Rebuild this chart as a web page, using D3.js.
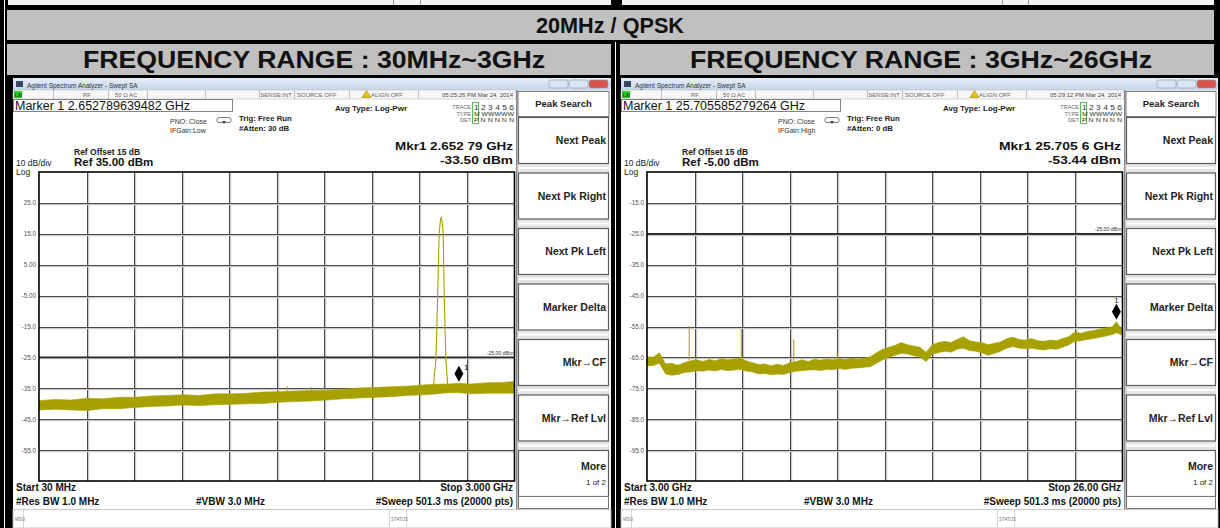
<!DOCTYPE html>
<html><head><meta charset="utf-8">
<script src="https://cdn.jsdelivr.net/npm/d3@7"></script>
<style>
html,body{margin:0;padding:0;background:#000;}
svg{display:block;font-family:"Liberation Sans",Arial,sans-serif;}
</style></head><body>
<svg id="c" width="1220" height="528"></svg>
<script>
// ---------- captions ----------
const pageTitle = "20MHz / QPSK";
const rangeTitles = ["FREQUENCY RANGE : 30MHz~3GHz", "FREQUENCY RANGE : 3GHz~26GHz"];
const softKeys = ["Next Peak", "Next Pk Right", "Next Pk Left", "Marker Delta", "Mkr\u2192CF", "Mkr\u2192Ref Lvl", "More"];

// ---------- sweep 1 : 30 MHz – 3 GHz (GHz, dBm) ----------
const lowStartGHz = 0.03, lowStopGHz = 3.0, lowRefDbm = 35;
const lowYTicks = [25, 15, 5, -5, -15, -25, -35, -45, -55];
const lowYTickLabels = ["25.0", "15.0", "5.00", "-5.00", "-15.0", "-25.0", "-35.0", "-45.0", "-55.0"];
// noise floor envelope (upper / lower edge of the trace)
const lowNoiseFreq = [0.03, 0.13, 0.23, 0.33, 0.43, 0.53, 0.63, 0.73, 0.83, 0.93, 1.03, 1.13, 1.23, 1.33, 1.43, 1.53, 1.63, 1.73, 1.83, 1.93, 2.03, 2.13, 2.23, 2.33, 2.43, 2.49, 2.59, 2.65, 2.73, 2.83, 2.93, 3.00];
const lowNoiseHigh = [-39.0, -38.6, -38.8, -38.2, -38.4, -37.9, -37.9, -37.5, -37.3, -37.1, -37.3, -36.8, -36.8, -36.6, -36.2, -36.1, -35.9, -35.7, -35.6, -35.3, -34.9, -34.7, -34.5, -34.3, -33.9, -33.7, -33.6, -33.4, -33.6, -33.2, -33.1, -32.8];
const lowNoiseLow = [-42.0, -41.8, -42.0, -42.2, -41.6, -41.6, -41.2, -40.9, -40.7, -40.4, -40.6, -40.3, -40.2, -40.0, -39.9, -39.5, -39.3, -39.1, -38.8, -38.4, -38.1, -37.9, -37.7, -37.3, -37.1, -36.9, -36.4, -36.4, -36.8, -36.6, -36.6, -36.6];
// 20 MHz QPSK carrier
const lowCarrierFreq = [2.4935, 2.4998, 2.5092, 2.5186, 2.5292, 2.5355, 2.5417, 2.5480, 2.5543, 2.5624, 2.5718, 2.5780, 2.5843];
const lowCarrierDbm = [-35.0, -30.5, -26.0, -8.0, 15.0, 18.5, 20.5, 19.0, 15.0, -8.0, -26.0, -30.5, -35.0];
const lowSpurFreq = [1.58, 1.73];
const lowSpurBase = [-36.0, -35.8];
const lowSpurPeak = [-34.3, -34.6];
const lowMarkerGHz = 2.652789639482, lowMarkerDbm = -33.50;

// ---------- sweep 2 : 3 GHz – 26 GHz (GHz, dBm) ----------
const highStartGHz = 3.0, highStopGHz = 26.0, highRefDbm = -5;
const highYTicks = [-15, -25, -35, -45, -55, -65, -75, -85, -95];
const highYTickLabels = ["-15.0", "-25.0", "-35.0", "-45.0", "-55.0", "-65.0", "-75.0", "-85.0", "-95.0"];
const highNoiseFreq = [3.0, 3.3, 3.6, 3.9, 4.2, 4.5, 4.8, 5.1, 5.4, 5.7, 6.0, 6.3, 6.6, 6.9, 7.2, 7.5, 7.8, 8.1, 8.4, 8.7, 9.0, 9.3, 9.6, 9.9, 10.2, 10.5, 10.8, 11.1, 11.4, 11.7, 12.0, 12.3, 12.6, 12.9, 13.2, 13.5, 13.8, 14.1, 14.4, 14.7, 15.0, 15.3, 15.6, 15.9, 16.2, 16.5, 16.8, 17.1, 17.4, 17.7, 18.0, 18.3, 18.6, 18.9, 19.2, 19.5, 19.8, 20.1, 20.4, 20.7, 21.0, 21.3, 21.6, 21.9, 22.2, 22.5, 22.8, 23.1, 23.4, 23.7, 24.0, 24.3, 24.6, 24.9, 25.2, 25.5, 25.7056, 25.85, 26.0];
const highNoiseHigh = [-64.8, -65.0, -63.5, -67.1, -66.9, -67.5, -66.7, -66.1, -65.8, -66.3, -65.7, -66.1, -65.4, -65.8, -65.5, -65.3, -66.1, -66.7, -67.3, -67.1, -67.7, -67.2, -67.6, -66.7, -66.4, -65.8, -66.3, -65.6, -65.9, -65.5, -65.8, -65.4, -65.7, -65.3, -65.6, -65.2, -64.8, -63.5, -62.4, -61.7, -61.1, -60.2, -60.9, -61.3, -61.7, -63.3, -60.9, -60.2, -59.8, -60.2, -59.2, -58.3, -59.6, -60.0, -60.2, -60.9, -60.4, -60.0, -58.9, -58.5, -59.2, -59.4, -58.9, -59.6, -59.8, -59.4, -59.6, -58.9, -58.3, -56.8, -57.2, -56.6, -56.3, -55.9, -55.5, -55.1, -53.44, -54.8, -55.9];
const highNoiseLow = [-67.8, -67.6, -66.9, -70.4, -70.8, -70.5, -69.9, -69.7, -69.3, -69.5, -69.1, -69.4, -68.9, -69.3, -69.1, -68.9, -69.4, -69.7, -70.4, -70.2, -70.6, -70.4, -70.5, -69.9, -69.5, -69.3, -69.1, -69.0, -69.2, -68.9, -69.0, -68.6, -68.9, -68.5, -68.4, -68.2, -68.0, -66.9, -65.8, -65.0, -64.3, -63.7, -63.9, -64.5, -64.8, -66.4, -63.9, -63.5, -63.0, -63.3, -62.4, -62.0, -62.8, -63.0, -63.5, -64.3, -63.7, -63.0, -62.0, -61.5, -62.0, -62.2, -62.0, -62.4, -62.6, -62.2, -62.4, -61.7, -60.9, -59.8, -59.6, -59.2, -58.9, -58.5, -58.1, -57.6, -57.0, -57.4, -57.9];
const highSpurFreq = [5.04, 7.56, 10.10, 12.20];
const highSpurBase = [-66.0, -65.3, -66.5, -65.3];
const highSpurPeak = [-54.8, -55.9, -59.2, -63.3];
const highMarkerGHz = 25.705585279264, highMarkerDbm = -53.44;

// ---------- panel texts ----------
const lowInfo = {
  marker: "Marker 1 2.652789639482 GHz", ifgain: "IFGain:Low", atten: "#Atten: 30 dB",
  time: "05:25:26 PM Mar 24, 2014", mkrFreq: "Mkr1 2.652 79 GHz", mkrLevel: "-33.50 dBm",
  ref: "Ref 35.00 dBm", start: "Start 30 MHz", stop: "Stop 3.000 GHz"
};
const highInfo = {
  marker: "Marker 1 25.705585279264 GHz", ifgain: "IFGain:High", atten: "#Atten: 0 dB",
  time: "05:29:12 PM Mar 24, 2014", mkrFreq: "Mkr1 25.705 6 GHz", mkrLevel: "-53.44 dBm",
  ref: "Ref -5.00 dBm", start: "Start 3.00 GHz", stop: "Stop 26.00 GHz"
};

const TRACE = "#a7a100";
const svg = d3.select("#c");

function txt(g, x, y, s, o = {}) {
  const t = g.append("text").attr("x", x).attr("y", y).text(s)
    .attr("font-size", o.size || 8)
    .attr("font-weight", o.bold ? "bold" : "normal")
    .attr("fill", o.fill || "#161616")
    .attr("text-anchor", o.anchor || "start");
  if (o.len) t.attr("textLength", o.len).attr("lengthAdjust", "spacingAndGlyphs");
  return t;
}

// ---------- table frame and captions ----------
svg.append("rect").attr("width", 1220).attr("height", 528).attr("fill", "#000");
svg.append("rect").attr("x", 8).attr("y", 0).attr("width", 603).attr("height", 5).attr("fill", "#f4f4f4");
svg.append("rect").attr("x", 622).attr("y", 0).attr("width", 592).attr("height", 5).attr("fill", "#f4f4f4");
[393, 420, 1002, 1028].forEach(v => svg.append("rect").attr("x", v).attr("y", 0).attr("width", 1).attr("height", 5).attr("fill", "#999"));
svg.append("rect").attr("x", 4).attr("y", 0).attr("width", 1).attr("height", 528).attr("fill", "#fff");
svg.append("rect").attr("x", 615).attr("y", 42).attr("width", 1).attr("height", 486).attr("fill", "#fff");

svg.append("rect").attr("x", 7).attr("y", 10).attr("width", 1207).attr("height", 30).attr("fill", "#c0c0c0");
svg.append("rect").attr("x", 7).attr("y", 44).attr("width", 604).attr("height", 31).attr("fill", "#c0c0c0");
svg.append("rect").attr("x", 620).attr("y", 44).attr("width", 594).attr("height", 31).attr("fill", "#c0c0c0");
txt(svg, 610, 33, pageTitle, { size: 22, bold: true, anchor: "middle", len: 148, fill: "#111" });
txt(svg, 314, 68, rangeTitles[0], { size: 23, bold: true, anchor: "middle", len: 462, fill: "#111" });
txt(svg, 921, 68, rangeTitles[1], { size: 23, bold: true, anchor: "middle", len: 462, fill: "#111" });

// ---------- one analyzer screen ----------
function drawScreen(ox, pw, cfg) {
  const g = svg.append("g");
  const plotL = ox + 26, plotR = ox + 501.5, plotT = 172, plotB = 481;

  g.append("rect").attr("x", ox).attr("y", 78).attr("width", pw).attr("height", 450).attr("fill", "#fff");

  // window title bar
  const gradId = "tb" + ox;
  const grad = svg.append("defs").append("linearGradient").attr("id", gradId).attr("x1", 0).attr("y1", 0).attr("x2", 0).attr("y2", 1);
  grad.append("stop").attr("offset", 0).attr("stop-color", "#e6eef8");
  grad.append("stop").attr("offset", 1).attr("stop-color", "#c6d6ea");
  g.append("rect").attr("x", ox).attr("y", 78).attr("width", pw).attr("height", 12).attr("fill", `url(#${gradId})`);
  g.append("rect").attr("x", ox + 3).attr("y", 81).attr("width", 7).attr("height", 6).attr("fill", "#3b4a63");
  txt(g, ox + 14, 87.5, "Agilent Spectrum Analyzer - Swept SA", { size: 6.5, fill: "#333" });
  [[536, "#dbe5f1"], [556, "#dbe5f1"], [576, "#d9534a"]].forEach(([bx, col]) => {
    g.append("rect").attr("x", ox + bx).attr("y", 80).attr("width", 19).attr("height", 8).attr("rx", 2)
      .attr("fill", col).attr("stroke", "#8a9bb3").attr("stroke-width", 0.6);
  });

  // instrument status row
  g.append("rect").attr("x", ox).attr("y", 90).attr("width", 503).attr("height", 9).attr("fill", "#f7f7f7")
    .attr("stroke", "#bbb").attr("stroke-width", 0.6);
  g.append("rect").attr("x", ox + 1).attr("y", 91).attr("width", 8).attr("height", 7).attr("fill", "#2bd12b");
  txt(g, ox + 2, 97, "LXI", { size: 4.5, bold: true, fill: "#114411" });
  [40, 95, 134, 192, 246, 281, 336, 405].forEach(v => g.append("rect").attr("x", ox + v).attr("y", 90).attr("width", 0.7).attr("height", 9).attr("fill", "#aaa"));
  txt(g, ox + 70, 97, "RF", { size: 6, fill: "#666" });
  txt(g, ox + 102, 97, "50 \u03A9", { size: 6, fill: "#666" });
  txt(g, ox + 116, 97, "AC", { size: 6, fill: "#666" });
  txt(g, ox + 279, 97, "SENSE:INT", { size: 6, fill: "#666", anchor: "end" });
  txt(g, ox + 284, 97, "SOURCE OFF", { size: 6, fill: "#666" });
  g.append("path").attr("d", `M${ox + 349},97.5 L${ox + 353.5},90.5 L${ox + 358},97.5 Z`).attr("fill", "#e8c200").attr("stroke", "#776000").attr("stroke-width", 0.4);
  txt(g, ox + 358, 97, "ALIGN OFF", { size: 6, fill: "#666" });
  txt(g, ox + 500, 97, cfg.info.time, { size: 6, fill: "#444", anchor: "end" });

  // marker readout line
  g.append("rect").attr("x", ox + 0.5).attr("y", 99.5).attr("width", 219).attr("height", 12).attr("fill", "#fff")
    .attr("stroke", "#666").attr("stroke-width", 0.8);
  txt(g, ox + 2, 109.5, cfg.info.marker, { size: 12.5, fill: "#111" });

  txt(g, ox + 157, 123.5, "PNO: Close", { size: 7, fill: "#333" });
  g.append("rect").attr("x", ox + 204).attr("y", 117.5).attr("width", 14).attr("height", 5).attr("rx", 2)
    .attr("fill", "none").attr("stroke", "#444").attr("stroke-width", 0.7);
  g.append("path").attr("d", `M${ox + 209},121 L${ox + 213},121 L${ox + 211},124 Z`).attr("fill", "#444");
  txt(g, ox + 157, 132.5, cfg.info.ifgain, { size: 7, fill: "#333" });
  txt(g, ox + 226, 121, "Trig: Free Run", { size: 7.8, bold: true, fill: "#222" });
  txt(g, ox + 226, 131, cfg.info.atten, { size: 7.8, bold: true, fill: "#222" });
  txt(g, ox + 322, 111, "Avg Type: Log-Pwr", { size: 8, bold: true, fill: "#222" });

  // trace table
  txt(g, ox + 458, 109, "TRACE", { size: 5.5, fill: "#666", anchor: "end" });
  txt(g, ox + 458, 115.5, "TYPE", { size: 5.5, fill: "#666", anchor: "end" });
  txt(g, ox + 458, 122, "DET", { size: 5.5, fill: "#666", anchor: "end" });
  g.append("rect").attr("x", ox + 459.5).attr("y", 102.5).attr("width", 6).attr("height", 21).attr("fill", "none")
    .attr("stroke", "#3aa33a").attr("stroke-width", 0.8);
  txt(g, ox + 461, 109.5, "1 2 3 4 5 6", { size: 6.5, fill: "#333", len: 40 });
  txt(g, ox + 461, 115.5, "M WWWWW", { size: 5.5, fill: "#333", len: 40 });
  txt(g, ox + 461, 122, "P N N N N N", { size: 5.5, fill: "#333", len: 40 });

  // active marker readout
  txt(g, ox + 500, 150, cfg.info.mkrFreq, { size: 11.8, bold: true, fill: "#111", anchor: "end", len: cfg.mkrFreqLen });
  txt(g, ox + 500, 164, cfg.info.mkrLevel, { size: 11.8, bold: true, fill: "#111", anchor: "end", len: 73 });

  // reference block
  txt(g, ox + 61, 155, "Ref Offset 15 dB", { size: 8.5, bold: true, fill: "#222" });
  txt(g, ox + 61, 166, cfg.info.ref, { size: 11.5, bold: true, fill: "#111" });
  txt(g, ox + 3, 166, "10 dB/div", { size: 8.5, fill: "#222" });
  txt(g, ox + 3, 175, "Log", { size: 8.5, fill: "#222" });

  // scales
  const x = d3.scaleLinear().domain([cfg.start, cfg.stop]).range([plotL, plotR]);
  const y = d3.scaleLinear().domain([cfg.ref - 100, cfg.ref]).range([plotB, plotT]);

  // graticule
  const grid = g.append("g");
  const xDiv = d3.range(1, 10).map(i => cfg.start + i * (cfg.stop - cfg.start) / 10);
  xDiv.forEach(v => {
    const px = Math.round(x(v));
    grid.append("rect").attr("x", px + 1).attr("y", plotT).attr("width", 1.2).attr("height", plotB - plotT).attr("fill", "#c9c9c9");
    grid.append("rect").attr("x", px).attr("y", plotT).attr("width", 1).attr("height", plotB - plotT).attr("fill", "#4a4a4a");
  });
  cfg.yTicks.forEach(v => {
    const py = Math.round(y(v));
    grid.append("rect").attr("x", plotL).attr("y", py + 1).attr("width", plotR - plotL).attr("height", 1.2).attr("fill", "#c9c9c9");
    grid.append("rect").attr("x", plotL).attr("y", py).attr("width", plotR - plotL).attr("height", 1).attr("fill", "#4a4a4a");
  });

  // scale labels
  const yAxis = d3.axisLeft(y).tickValues(cfg.yTicks).tickFormat((d, i) => cfg.yTickLabels[i]).tickSize(0).tickPadding(3);
  const ax = g.append("g").attr("transform", `translate(${plotL},0)`).call(yAxis);
  ax.select(".domain").remove();
  ax.selectAll("text").attr("font-size", 6.3).attr("fill", "#555").attr("font-family", "Liberation Sans, Arial, sans-serif");

  // display line
  g.append("line").attr("x1", plotL).attr("x2", plotR).attr("y1", y(-25)).attr("y2", y(-25))
    .attr("stroke", "#2a2a2a").attr("stroke-width", 1.6);
  txt(g, plotR - 1, y(-25) - 2.5, "-25.00 dBm", { size: 5.2, fill: "#333", anchor: "end" });

  // trace
  const band = cfg.noiseFreq.map((f, i) => ({ f, hi: cfg.noiseHigh[i], lo: cfg.noiseLow[i] }));
  g.append("path").datum(band)
    .attr("d", d3.area().x(d => x(d.f)).y0(d => y(d.lo)).y1(d => y(d.hi)))
    .attr("fill", TRACE).attr("stroke", TRACE).attr("stroke-width", 0.6).attr("stroke-linejoin", "round");
  cfg.spurFreq.forEach((f, i) => {
    g.append("line").attr("x1", x(f)).attr("x2", x(f)).attr("y1", y(cfg.spurBase[i])).attr("y2", y(cfg.spurPeak[i]))
      .attr("stroke", TRACE).attr("stroke-width", 1);
  });
  if (cfg.carrierFreq) {
    const pk = cfg.carrierFreq.map((f, i) => ({ f, v: cfg.carrierDbm[i] }));
    g.append("path").datum(pk).attr("d", d3.line().x(d => x(d.f)).y(d => y(d.v)))
      .attr("fill", "none").attr("stroke", TRACE).attr("stroke-width", 1.1);
  }

  // marker 1
  const mx = x(cfg.markerGHz), my = y(cfg.markerDbm) - 10;
  g.append("path").attr("d", `M${mx},${my - 8} L${mx + 4.5},${my} L${mx},${my + 8} L${mx - 4.5},${my} Z`).attr("fill", "#000");
  if (cfg.labelAbove) txt(g, mx, my - 8.5, "1", { size: 7, fill: "#000", anchor: "middle" });
  else txt(g, mx + 5, my - 4, "1", { size: 8, fill: "#000" });

  // plot frame
  g.append("rect").attr("x", plotL).attr("y", plotT).attr("width", plotR - plotL).attr("height", plotB - plotT)
    .attr("fill", "none").attr("stroke", "#000").attr("stroke-width", 1.6);

  // sweep settings
  txt(g, ox + 3, 491, cfg.info.start, { size: 10, bold: true, fill: "#111" });
  txt(g, ox + 500, 491, cfg.info.stop, { size: 10, bold: true, fill: "#111", anchor: "end" });
  txt(g, ox + 3, 505, "#Res BW 1.0 MHz", { size: 10, bold: true, fill: "#111" });
  txt(g, ox + 183, 505, "#VBW 3.0 MHz", { size: 10, bold: true, fill: "#111" });
  txt(g, ox + 500, 505, "#Sweep  501.3 ms (20000 pts)", { size: 10, bold: true, fill: "#111", anchor: "end" });

  // message bar
  g.append("rect").attr("x", ox).attr("y", 509.5).attr("width", pw).attr("height", 18.5).attr("fill", "#fff")
    .attr("stroke", "#bbb").attr("stroke-width", 0.8);
  g.append("rect").attr("x", ox + 10).attr("y", 510).attr("width", 0.8).attr("height", 18).attr("fill", "#ccc");
  g.append("rect").attr("x", ox + 376).attr("y", 510).attr("width", 0.8).attr("height", 18).attr("fill", "#ccc");
  g.append("rect").attr("x", ox + 393).attr("y", 510).attr("width", 0.8).attr("height", 18).attr("fill", "#ccc");
  txt(g, ox + 2, 521, "MSG", { size: 4.5, fill: "#777" });
  txt(g, ox + 378, 521, "STATUS", { size: 4.5, fill: "#777" });

  // soft-key column
  const kx = ox + 505, kw = pw - 507;
  g.append("rect").attr("x", ox + 503).attr("y", 90).attr("width", 1.5).attr("height", 419).attr("fill", "#888");
  g.append("rect").attr("x", kx).attr("y", 90).attr("width", kw).attr("height", 419).attr("fill", "#e4e4e4");
  g.append("rect").attr("x", kx).attr("y", 91.5).attr("width", kw).attr("height", 25).attr("fill", "#fff")
    .attr("stroke", "#777").attr("stroke-width", 1);
  txt(g, kx + kw / 2, 107, "Peak Search", { size: 9.5, bold: true, fill: "#222", anchor: "middle" });
  softKeys.forEach((k, i) => {
    const ky = 117 + i * 55.5;
    g.append("rect").attr("x", kx + 0.5).attr("y", ky + 0.5).attr("width", kw - 1).attr("height", 46).attr("fill", "#fff")
      .attr("stroke", "#5c5c5c").attr("stroke-width", 1.2);
    g.append("line").attr("x1", kx + 1).attr("x2", kx + kw - 1).attr("y1", ky + 51).attr("y2", ky + 51)
      .attr("stroke", "#fff").attr("stroke-width", 2);
    const cy = ky + 23;
    if (k === "More") {
      txt(g, kx + kw - 3, cy - 3, k, { size: 10.5, bold: true, fill: "#222", anchor: "end" });
      txt(g, kx + kw - 3, cy + 12, "1 of 2", { size: 8, fill: "#222", anchor: "end" });
    } else {
      txt(g, kx + kw - 3, cy + 4, k, { size: 10.5, bold: true, fill: "#222", anchor: "end" });
    }
  });
  g.append("rect").attr("x", kx + 0.5).attr("y", 496.5).attr("width", kw - 1).attr("height", 12).attr("fill", "#fff")
    .attr("stroke", "#777").attr("stroke-width", 1);
}

drawScreen(13, 598, {
  start: lowStartGHz, stop: lowStopGHz, ref: lowRefDbm, yTicks: lowYTicks, yTickLabels: lowYTickLabels,
  noiseFreq: lowNoiseFreq, noiseHigh: lowNoiseHigh, noiseLow: lowNoiseLow,
  carrierFreq: lowCarrierFreq, carrierDbm: lowCarrierDbm,
  spurFreq: lowSpurFreq, spurBase: lowSpurBase, spurPeak: lowSpurPeak,
  markerGHz: lowMarkerGHz, markerDbm: lowMarkerDbm, info: lowInfo, labelAbove: false, mkrFreqLen: 118
});
drawScreen(621, 597, {
  start: highStartGHz, stop: highStopGHz, ref: highRefDbm, yTicks: highYTicks, yTickLabels: highYTickLabels,
  noiseFreq: highNoiseFreq, noiseHigh: highNoiseHigh, noiseLow: highNoiseLow,
  carrierFreq: null, carrierDbm: null,
  spurFreq: highSpurFreq, spurBase: highSpurBase, spurPeak: highSpurPeak,
  markerGHz: highMarkerGHz, markerDbm: highMarkerDbm, info: highInfo, labelAbove: true, mkrFreqLen: 122
});
</script>
</body></html>
